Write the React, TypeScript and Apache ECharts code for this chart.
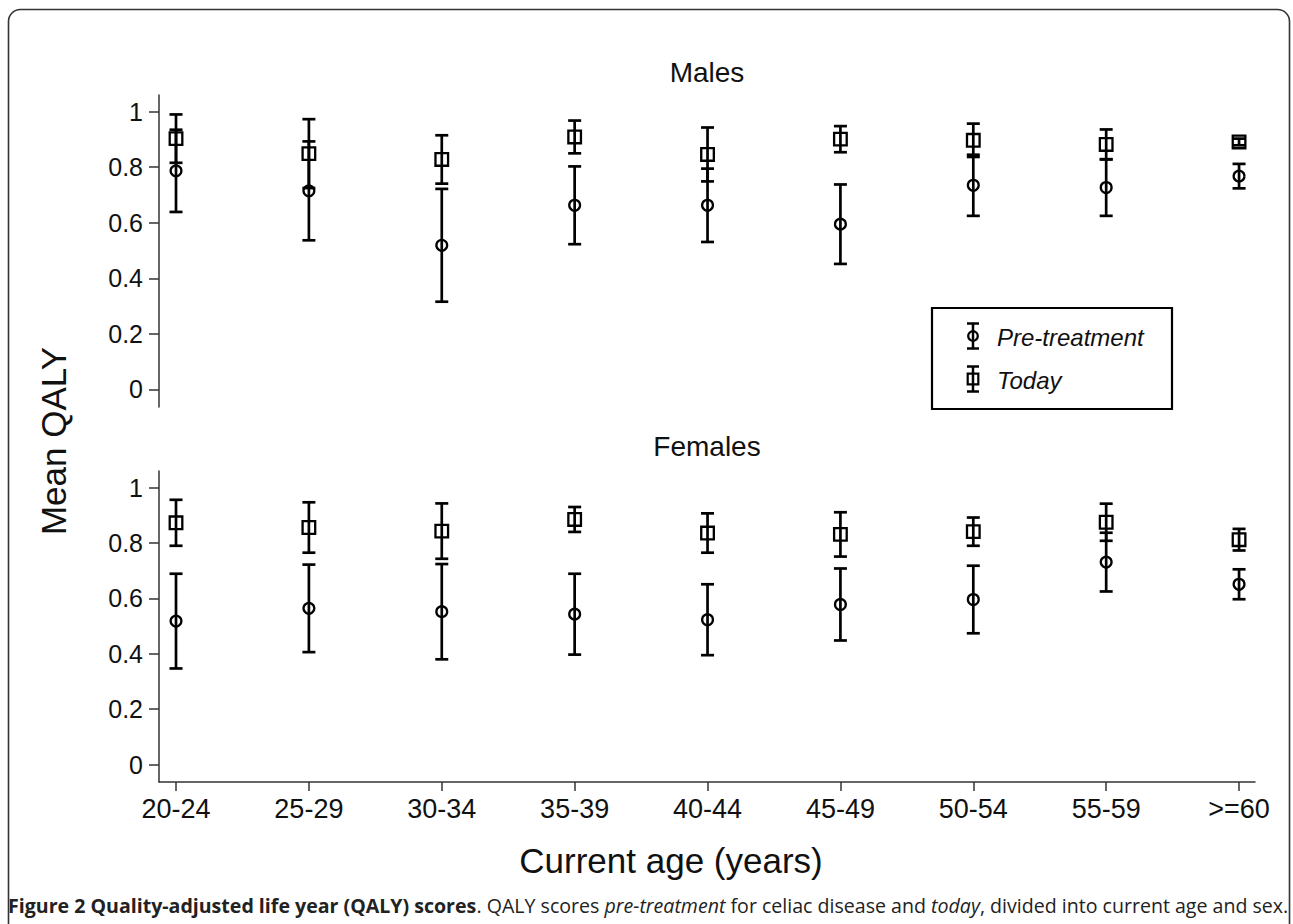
import React, { useEffect, useRef } from 'react';
import * as echarts from 'echarts';

// ---------- data ----------
const categories = ['20-24', '25-29', '30-34', '35-39', '40-44', '45-49', '50-54', '55-59', '>=60'];
const categoryIndex = [0, 1, 2, 3, 4, 5, 6, 7, 8];
const yTicks = [0, 0.2, 0.4, 0.6, 0.8, 1];

const malePreMean = [0.787, 0.715, 0.519, 0.663, 0.663, 0.595, 0.735, 0.727, 0.768];
const malePreErr = [0.148, 0.178, 0.203, 0.14, 0.132, 0.143, 0.11, 0.102, 0.044];
const maleTodayMean = [0.903, 0.849, 0.828, 0.909, 0.846, 0.901, 0.897, 0.882, 0.891];
const maleTodayErr = [0.087, 0.124, 0.087, 0.059, 0.097, 0.047, 0.06, 0.054, 0.012];

const femalePreMean = [0.518, 0.564, 0.552, 0.543, 0.523, 0.578, 0.596, 0.731, 0.651];
const femalePreErr = [0.171, 0.158, 0.172, 0.146, 0.128, 0.13, 0.122, 0.106, 0.054];
const femaleTodayMean = [0.873, 0.856, 0.843, 0.885, 0.836, 0.831, 0.841, 0.875, 0.812];
const femaleTodayErr = [0.083, 0.091, 0.1, 0.045, 0.071, 0.08, 0.051, 0.067, 0.039];

const panelTitles = ['Males', 'Females'];
const seriesNames = ['Pre-treatment', 'Today'];
const yAxisTitle = 'Mean QALY';
const xAxisTitle = 'Current age (years)';
const captionParts = [
  { t: 'Figure 2 Quality-adjusted life year (QALY) scores', s: 'b' },
  { t: '. QALY scores ', s: 'r' },
  { t: 'pre-treatment', s: 'i' },
  { t: ' for celiac disease and ', s: 'r' },
  { t: 'today', s: 'i' },
  { t: ', divided into current age and sex.', s: 'r' },
];

// ---------- layout ----------
const W = 1293;
const H = 924;
const SANS = 'Liberation Sans, Arial, sans-serif';
const CAP_FONT = 'Open Sans, Noto Sans, sans-serif';
const CAP_SIZE = 20;
const X_MIN = -0.128;
const X_MAX = 8.12;
const Y_MIN = -0.063;
const Y_MAX = 1.06;
const AXIS_COLOR = '#333';

function errorSeries(name: string, grid: number, means: number[], errs: number[], shape: string) {
  return {
    type: 'custom',
    name,
    xAxisIndex: grid,
    yAxisIndex: grid,
    clip: false,
    data: means.map((m, i) => [categoryIndex[i], m, errs[i]]),
    encode: { x: 0, y: 1 },
    renderItem: (_params: any, api: any) => {
      const x = api.value(0);
      const m = api.value(1);
      const e = api.value(2);
      const top = api.coord([x, m + e]);
      const bot = api.coord([x, m - e]);
      const c = api.coord([x, m]);
      const hw = 6.5;
      const ls = { stroke: '#000', lineWidth: 2.7, fill: 'none' };
      const children: any[] = [
        { type: 'line', shape: { x1: c[0], y1: top[1], x2: c[0], y2: bot[1] }, style: ls },
        { type: 'line', shape: { x1: c[0] - hw, y1: top[1], x2: c[0] + hw, y2: top[1] }, style: ls },
        { type: 'line', shape: { x1: c[0] - hw, y1: bot[1], x2: c[0] + hw, y2: bot[1] }, style: ls },
      ];
      if (shape === 'circle') {
        children.push({
          type: 'circle',
          shape: { cx: c[0], cy: c[1], r: 5.4 },
          style: { fill: 'none', stroke: '#000', lineWidth: 2.3 },
        });
      } else {
        children.push({
          type: 'rect',
          shape: { x: c[0] - 6.3, y: c[1] - 6.3, width: 12.6, height: 12.6 },
          style: { fill: 'none', stroke: '#000', lineWidth: 2.3 },
        });
      }
      return { type: 'group', children };
    },
  };
}

function legendIcon(cx: number, cy: number, shape: string) {
  const hw = 6;
  const half = 12.5;
  const ls = { stroke: '#000', lineWidth: 2.5, fill: 'none' };
  const children: any[] = [
    { type: 'line', shape: { x1: cx, y1: cy - half, x2: cx, y2: cy + half }, style: ls },
    { type: 'line', shape: { x1: cx - hw, y1: cy - half, x2: cx + hw, y2: cy - half }, style: ls },
    { type: 'line', shape: { x1: cx - hw, y1: cy + half, x2: cx + hw, y2: cy + half }, style: ls },
  ];
  if (shape === 'circle') {
    children.push({ type: 'circle', shape: { cx, cy, r: 4.8 }, style: { fill: 'none', stroke: '#000', lineWidth: 2.2 } });
  } else {
    children.push({ type: 'rect', shape: { x: cx - 5.3, y: cy - 5.3, width: 10.6, height: 10.6 }, style: { fill: 'none', stroke: '#000', lineWidth: 2.2 } });
  }
  return { type: 'group', children };
}

function capStyle(s: string) {
  if (s === 'b') return { fontWeight: 'bold', fontStyle: 'normal' };
  if (s === 'i') return { fontWeight: 'normal', fontStyle: 'italic' };
  return { fontWeight: 'normal', fontStyle: 'normal' };
}

function captionScale(): number {
  const canvas = document.createElement('canvas');
  const ctx = canvas.getContext('2d');
  if (!ctx) return 1;
  let total = 0;
  captionParts.forEach((p) => {
    const st = capStyle(p.s);
    ctx.font = `${st.fontStyle} ${st.fontWeight} ${CAP_SIZE}px ${CAP_FONT}`;
    total += ctx.measureText(p.t).width;
  });
  return total > 0 ? 1280 / total : 1;
}

export default function App() {
  const ref = useRef<HTMLDivElement>(null);

  useEffect(() => {
    if (!ref.current) return;
    const chart = echarts.init(ref.current, undefined, { renderer: 'svg', width: W, height: H });

    const grids = [
      { left: 159, top: 95, width: 1096, height: 312 },
      { left: 159, top: 471, width: 1096, height: 311 },
    ];

    const xAxes = grids.map((_, gi) => ({
      type: 'value',
      gridIndex: gi,
      min: X_MIN,
      max: X_MAX,
      splitLine: { show: false },
      axisLine: { show: gi === 1, onZero: false, lineStyle: { color: AXIS_COLOR, width: 1.5 } },
      axisTick: {
        show: gi === 1,
        customValues: categoryIndex,
        length: 9,
        lineStyle: { color: AXIS_COLOR, width: 1.5 },
      },
      axisLabel: {
        show: gi === 1,
        customValues: categoryIndex,
        formatter: (v: number) => categories[Math.round(v)] ?? '',
        fontSize: 27,
        fontFamily: SANS,
        color: '#111',
        margin: 13,
      },
    }));

    const yAxes = grids.map((_, gi) => ({
      type: 'value',
      gridIndex: gi,
      min: Y_MIN,
      max: Y_MAX,
      splitLine: { show: false },
      axisLine: { show: true, onZero: false, lineStyle: { color: AXIS_COLOR, width: 1.5 } },
      axisTick: { show: true, customValues: yTicks, length: 10, lineStyle: { color: AXIS_COLOR, width: 1.5 } },
      axisLabel: {
        customValues: yTicks,
        formatter: (v: number) => String(Math.round(v * 10) / 10),
        fontSize: 25,
        fontFamily: SANS,
        color: '#111',
        margin: 16,
      },
    }));

    const s = captionScale();
    const rich: any = {};
    ['b', 'r', 'i'].forEach((k) => {
      rich[k] = { ...capStyle(k), fontSize: CAP_SIZE, fontFamily: CAP_FONT, fill: '#222' };
    });
    const capText = captionParts.map((p) => `{${p.s}|${p.t}}`).join('');

    const option: any = {
      animation: false,
      backgroundColor: '#fff',
      grid: grids,
      xAxis: xAxes,
      yAxis: yAxes,
      series: [
        errorSeries(seriesNames[0], 0, malePreMean, malePreErr, 'circle'),
        errorSeries(seriesNames[1], 0, maleTodayMean, maleTodayErr, 'rect'),
        errorSeries(seriesNames[0], 1, femalePreMean, femalePreErr, 'circle'),
        errorSeries(seriesNames[1], 1, femaleTodayMean, femaleTodayErr, 'rect'),
      ],
      graphic: [
        {
          type: 'rect',
          silent: true,
          shape: { x: 8.5, y: 9.5, width: 1281, height: 1000, r: 12 },
          style: { fill: 'none', stroke: '#333', lineWidth: 1.6 },
        },
        {
          type: 'text',
          x: 707,
          y: 72,
          style: { text: panelTitles[0], fontSize: 28, fontFamily: SANS, fill: '#111', align: 'center', verticalAlign: 'middle' },
        },
        {
          type: 'text',
          x: 707,
          y: 446,
          style: { text: panelTitles[1], fontSize: 28, fontFamily: SANS, fill: '#111', align: 'center', verticalAlign: 'middle' },
        },
        {
          type: 'text',
          x: 53,
          y: 441,
          rotation: Math.PI / 2,
          style: { text: yAxisTitle, fontSize: 35, fontFamily: SANS, fill: '#111', align: 'center', verticalAlign: 'middle' },
        },
        {
          type: 'text',
          x: 671,
          y: 860,
          style: { text: xAxisTitle, fontSize: 35, fontFamily: SANS, fill: '#111', align: 'center', verticalAlign: 'middle' },
        },
        // legend box
        {
          type: 'group',
          children: [
            {
              type: 'rect',
              shape: { x: 932, y: 308, width: 240, height: 101 },
              style: { fill: '#fff', stroke: '#000', lineWidth: 2.2 },
            },
            legendIcon(973, 336, 'circle'),
            legendIcon(973, 379, 'rect'),
            {
              type: 'text',
              x: 997,
              y: 337,
              style: { text: seriesNames[0], fontSize: 24, fontStyle: 'italic', fontFamily: SANS, fill: '#111', align: 'left', verticalAlign: 'middle' },
            },
            {
              type: 'text',
              x: 997,
              y: 380,
              style: { text: seriesNames[1], fontSize: 24, fontStyle: 'italic', fontFamily: SANS, fill: '#111', align: 'left', verticalAlign: 'middle' },
            },
          ],
        },
        // caption
        {
          type: 'group',
          x: 8,
          y: 905,
          scaleX: s,
          children: [
            {
              type: 'text',
              style: { text: capText, rich, fontSize: CAP_SIZE, fontFamily: CAP_FONT, fill: '#222', align: 'left', verticalAlign: 'middle' },
            },
          ],
        },
      ],
    };

    chart.setOption(option);
    return () => {
      chart.dispose();
    };
  }, []);

  return (
    <div
      ref={ref}
      style={{ position: 'absolute', left: 0, top: 0, width: W, height: H, background: '#fff' }}
    />
  );
}
